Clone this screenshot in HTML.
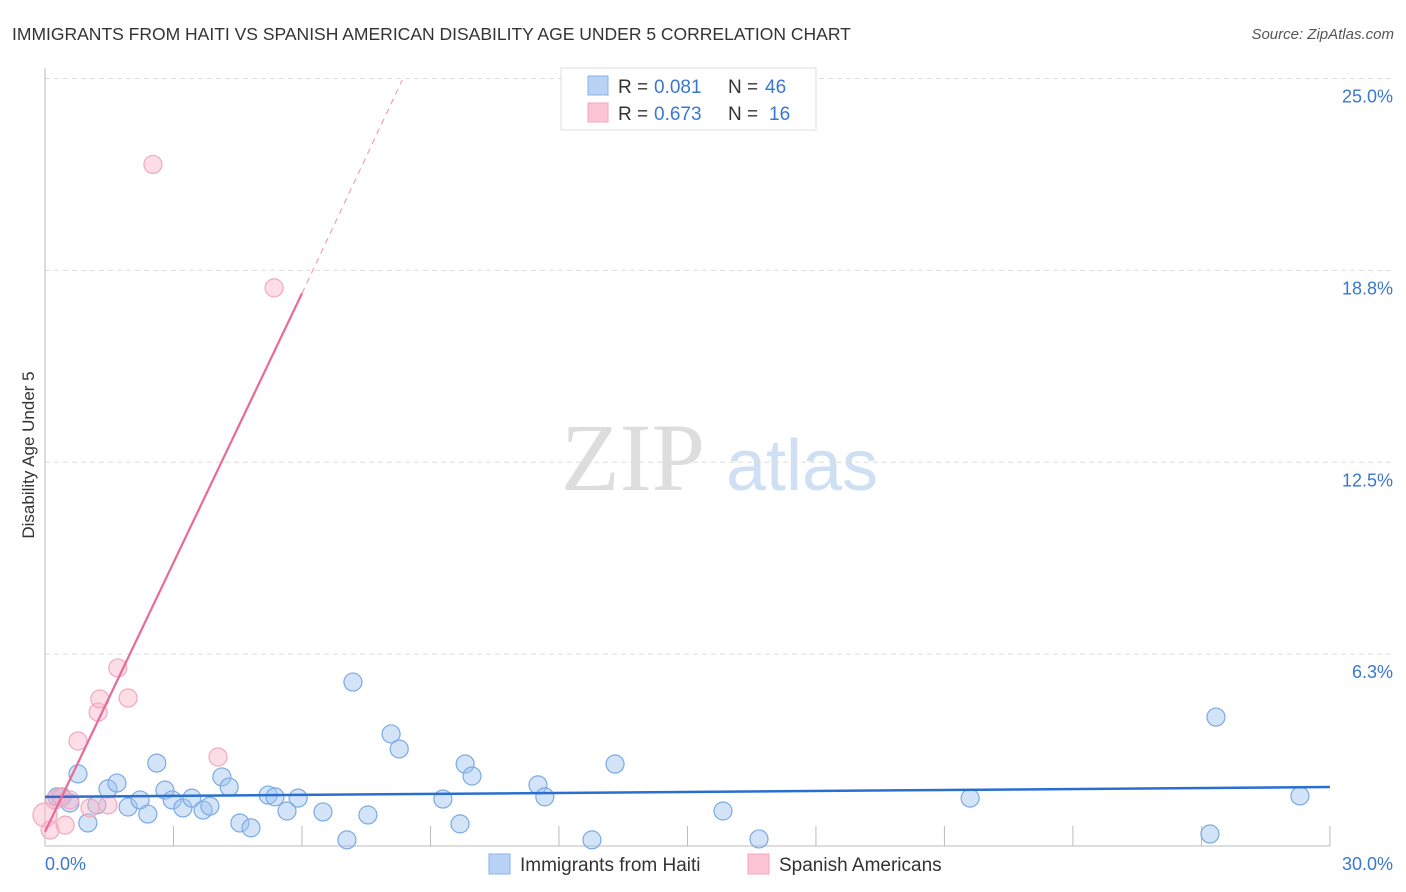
<!DOCTYPE html>
<html><head><meta charset="utf-8"><style>
body{margin:0;background:#fff;font-family:"Liberation Sans",sans-serif}
svg{display:block}
</style></head><body>
<svg id="c" width="1406" height="892" xmlns="http://www.w3.org/2000/svg">
<text x="12" y="40" font-size="17.5" fill="#333">IMMIGRANTS FROM HAITI VS SPANISH AMERICAN DISABILITY AGE UNDER 5 CORRELATION CHART</text>
<text x="1394" y="39" font-size="15" fill="#555" font-style="italic" text-anchor="end">Source: ZipAtlas.com</text>
<text x="34" y="455" font-size="17" fill="#333" text-anchor="middle" transform="rotate(-90 34 455)">Disability Age Under 5</text>
<g>
<text x="633" y="490" font-size="96" font-family="Liberation Serif,serif" fill="#ddd" text-anchor="middle">ZIP</text>
<text x="802" y="490" font-size="72" fill="#cfe0f5" text-anchor="middle">atlas</text>
</g>
<g id="grid"></g><g id="axes"></g><g id="marks"></g>
<g>
<rect x="561" y="68" width="255" height="62" fill="#fff" stroke="#ddd"/>
<rect x="588" y="76" width="20" height="19" fill="#b8d3f5" stroke="#8ab3e8"/>
<rect x="588" y="103" width="20" height="19" fill="#fcc5d5" stroke="#f5a3bb"/>
<text x="618" y="93" font-size="19" fill="#333">R =</text>
<text x="654" y="93" font-size="19" fill="#3a78d0">0.081</text>
<text x="728" y="93" font-size="19" fill="#333">N =</text>
<text x="765" y="93" font-size="19" fill="#3a78d0">46</text>
<text x="618" y="120" font-size="19" fill="#333">R =</text>
<text x="654" y="120" font-size="19" fill="#3a78d0">0.673</text>
<text x="728" y="120" font-size="19" fill="#333">N =</text>
<text x="769" y="120" font-size="19" fill="#3a78d0">16</text>
</g>
<g>
<rect x="489" y="854" width="21" height="20" fill="#b8d3f5" stroke="#8ab3e8"/>
<text x="520" y="871" font-size="19" fill="#333">Immigrants from Haiti</text>
<rect x="748" y="854" width="21" height="20" fill="#fcc5d5" stroke="#f5a3bb"/>
<text x="779" y="871" font-size="19" fill="#333">Spanish Americans</text>
</g>
</svg>
<script>
const blueX=[0.28,0.40,0.58,1.00,0.77,1.21,1.47,1.68,1.94,2.22,2.40,2.61,2.80,2.97,3.22,3.43,3.69,3.85,4.13,4.30,4.55,4.81,5.21,5.37,5.65,5.91,6.49,7.05,7.19,7.54,8.08,8.27,9.29,9.69,9.81,9.97,11.51,11.67,12.77,13.31,15.83,16.67,21.60,27.20,27.34,29.30];
const blueY=[1.60,1.60,1.40,0.75,2.35,1.34,1.86,2.05,1.27,1.50,1.04,2.70,1.82,1.50,1.24,1.56,1.17,1.30,2.25,1.92,0.75,0.59,1.66,1.60,1.14,1.56,1.11,0.20,5.34,1.01,3.65,3.16,1.53,0.72,2.67,2.28,1.99,1.60,0.20,2.67,1.14,0.23,1.56,0.39,4.20,1.63];
const pinkX=[0,0.12,0.23,0.35,0.47,0.58,0.77,1.05,1.24,1.28,1.47,1.70,1.94,2.52,4.04,5.35];
const pinkY=[1.01,0.52,1.50,1.60,0.68,1.50,3.42,1.24,4.36,4.79,1.34,5.80,4.82,22.2,2.90,18.18];
const yTicks=[6.25,12.5,18.75,25];
const yTickLabels=["6.3%","12.5%","18.8%","25.0%"];
const blueTrend=[[0,1.60],[30,1.92]];
const pinkTrend=[[0,0.46],[6.0,18.0]];
const pinkDash=[[6.0,18.0],[8.34,24.95]];
const X=v=>45+v*42.83, Y=v=>846-v*30.7;
const NS="http://www.w3.org/2000/svg";
function mk(p,t,a){const e=document.createElementNS(NS,t);for(const k in a)e.setAttribute(k,a[k]);p.appendChild(e);return e;}
const grid=document.getElementById('grid'),axes=document.getElementById('axes'),marks=document.getElementById('marks');
yTicks.forEach((t,i)=>{
 const l=mk(grid,'line',{x1:45,x2:1392,y1:Y(t),y2:Y(t),stroke:'#ddd','stroke-dasharray':'5,4'});
 
 
 const tx=mk(axes,'text',{x:1393,y:Y(t)+24,'font-size':18,fill:'#3a78d0','text-anchor':'end'});
 tx.textContent=yTickLabels[i];
 
 
});
let a=mk(axes,'line',{x1:45,x2:45,y1:68,y2:846,stroke:'#bbb'});

a=mk(axes,'line',{x1:45,x2:1330,y1:846,y2:846,stroke:'#bbb'});

for(let i=1;i<=10;i++){const t=mk(axes,'line',{x1:X(i*3),x2:X(i*3),y1:826,y2:846,stroke:'#bbb'});
 }
let t0=mk(axes,'text',{x:45,y:870,'font-size':18,fill:'#3a78d0'});t0.textContent="0.0%";

t0=mk(axes,'text',{x:1393,y:870,'font-size':18,fill:'#3a78d0','text-anchor':'end'});t0.textContent="30.0%";

blueX.forEach((x,i)=>{const c=mk(marks,'circle',{cx:X(x),cy:Y(blueY[i]),r:9,fill:'rgba(160,196,240,0.45)',stroke:'#7aaae3','stroke-width':1.2});
 });
pinkX.forEach((x,i)=>{const c=mk(marks,'circle',{cx:X(x),cy:Y(pinkY[i]),r:i==0?12:9,fill:'rgba(250,180,200,0.45)',stroke:'#f2a8be','stroke-width':1.2});
 });
let l=mk(marks,'line',{x1:X(blueTrend[0][0]),y1:Y(blueTrend[0][1]),x2:X(blueTrend[1][0]),y2:Y(blueTrend[1][1]),stroke:'#2a6fd0','stroke-width':2.5});

l=mk(marks,'line',{x1:X(pinkTrend[0][0]),y1:Y(pinkTrend[0][1]),x2:X(pinkTrend[1][0]),y2:Y(pinkTrend[1][1]),stroke:'#e86a98','stroke-width':2.2});

l=mk(marks,'line',{x1:X(pinkDash[0][0]),y1:Y(pinkDash[0][1]),x2:X(pinkDash[1][0]),y2:Y(pinkDash[1][1]),stroke:'#f0a0b8','stroke-width':1.2,'stroke-dasharray':'6,5'});

</script>
</body></html>
